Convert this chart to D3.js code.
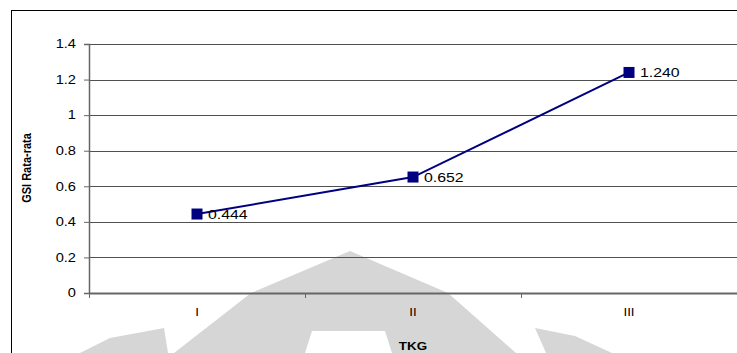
<!DOCTYPE html>
<html>
<head>
<meta charset="utf-8">
<script src="https://cdn.jsdelivr.net/npm/d3@7"></script>
<style>
  html, body { margin: 0; padding: 0; background: #fff; }
  svg { display: block; font-family: "Liberation Sans", Arial, sans-serif; }
</style>
</head>
<body>
<svg id="chart" width="737" height="353"></svg>
<script>
// Average GSI per TKG stage
const categories = ["I", "II", "III"];
const gsiValues = [0.444, 0.652, 1.240];
const valueLabels = ["0.444", "0.652", "1.240"];
const yTicks = [0, 0.2, 0.4, 0.6, 0.8, 1, 1.2, 1.4];
const yTickLabels = ["0", "0.2", "0.4", "0.6", "0.8", "1", "1.2", "1.4"];

const svg = d3.select("#chart");
const plot = { left: 89, right: 737, top: 44, bottom: 293 };
const SX = 1.22; // horizontal widening of the lettering

// text placed at (x,y) and widened horizontally
function label(g, x, y, txt, opts) {
  const o = Object.assign({ size: 12, anchor: "start", weight: "normal", rotate: 0 }, opts);
  g.append("text")
    .attr("transform", `translate(${x},${y}) scale(${SX},1)` + (o.rotate ? ` rotate(${o.rotate})` : ""))
    .attr("text-anchor", o.anchor)
    .attr("font-size", o.size)
    .attr("font-weight", o.weight)
    .attr("fill", "#000")
    .text(txt);
}

// faint background emblem
const wm = svg.append("g").attr("fill", "#d6d6d6");
wm.append("path").attr("d",
  "M350,251 L448,293 L516,353 L392,353 L385,331 L312,331 L305,353 L174,353 L251,293 Z");
wm.append("path").attr("d", "M80,353 L110,338 L164,328 L168,353 Z");
wm.append("path").attr("d", "M535,328 L575,336 L612,353 L546,353 Z");

// outer frame
svg.append("rect")
  .attr("x", 11.5).attr("y", 10.5)
  .attr("width", 740).attr("height", 360)
  .attr("fill", "none").attr("stroke", "#000").attr("stroke-width", 1);

const x = d3.scaleBand().domain(categories).range([plot.left, plot.right]);
const y = d3.scaleLinear().domain([0, 1.4]).range([plot.bottom, plot.top]);

// horizontal gridlines
svg.append("g").selectAll("line")
  .data(yTicks.filter(d => d > 0))
  .join("line")
  .attr("x1", plot.left).attr("x2", plot.right)
  .attr("y1", d => Math.round(y(d)) + 0.5).attr("y2", d => Math.round(y(d)) + 0.5)
  .attr("stroke", "#505050").attr("stroke-width", 1);

// y axis (line + ticks from d3.axisLeft, labels drawn widened)
const yAxis = svg.append("g")
  .attr("transform", `translate(${plot.left},0)`)
  .call(d3.axisLeft(y).tickValues(yTicks).tickFormat("").tickSize(5));
yAxis.select(".domain").attr("stroke", "#666").attr("stroke-width", 1.5);
yAxis.selectAll(".tick line").attr("stroke", "#666");
const yLab = svg.append("g");
yTicks.forEach((t, i) => label(yLab, 76, y(t) + 4.3, yTickLabels[i], { size: 12, anchor: "end" }));

// x axis with ticks at category boundaries
const boundaries = [plot.left, ...categories.slice(1).map(c => x(c))];
const xAxisG = svg.append("g");
xAxisG.append("line")
  .attr("x1", plot.left).attr("x2", plot.right)
  .attr("y1", plot.bottom + 0.5).attr("y2", plot.bottom + 0.5)
  .attr("stroke", "#666").attr("stroke-width", 2);
xAxisG.selectAll(".bt").data(boundaries).join("line")
  .attr("x1", d => d + 0.5).attr("x2", d => d + 0.5)
  .attr("y1", plot.bottom).attr("y2", plot.bottom + 5)
  .attr("stroke", "#666");
categories.forEach(c => label(xAxisG, x(c) + x.bandwidth() / 2, plot.bottom + 23, c,
  { size: 11, anchor: "middle" }));

// axis titles
label(svg, 31, 168, "GSI Rata-rata", { size: 11, anchor: "middle", weight: "bold", rotate: -90 });
label(svg, x("II") + x.bandwidth() / 2, 350, "TKG", { size: 11, anchor: "middle", weight: "bold" });

// series line
const pts = categories.map((c, i) => [x(c) + x.bandwidth() / 2, y(gsiValues[i])]);
svg.append("path")
  .attr("d", d3.line()(pts))
  .attr("fill", "none").attr("stroke", "#000080").attr("stroke-width", 2);

// markers
const m = 11;
svg.append("g").selectAll("rect").data(pts).join("rect")
  .attr("x", d => d[0] - m / 2).attr("y", d => d[1] - m / 2)
  .attr("width", m).attr("height", m)
  .attr("fill", "#000080");

// value labels
const vl = svg.append("g");
pts.forEach((p, i) => label(vl, p[0] + 11, p[1] + 5, valueLabels[i], { size: 13 }));
</script>
</body>
</html>
